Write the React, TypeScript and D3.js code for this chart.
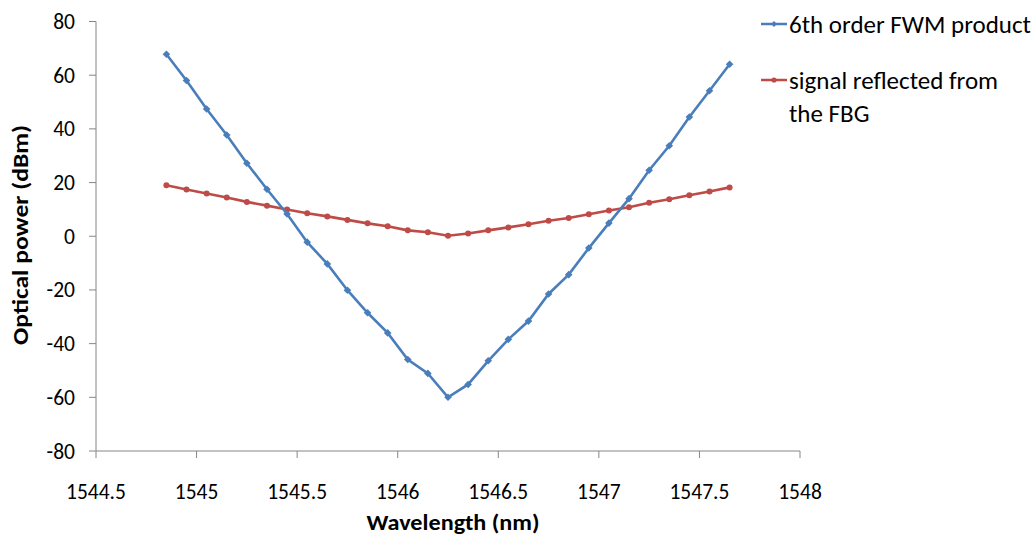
import React from "react";
import * as d3 from "d3";

const wavelengths = [
  1544.85, 1544.95, 1545.05, 1545.15, 1545.25, 1545.35, 1545.45, 1545.55, 1545.65, 1545.75,
  1545.85, 1545.95, 1546.05, 1546.15, 1546.25, 1546.35, 1546.45, 1546.55, 1546.65, 1546.75,
  1546.85, 1546.95, 1547.05, 1547.15, 1547.25, 1547.35, 1547.45, 1547.55, 1547.65,
];
const fwmProduct = [
  67.8, 58.0, 47.4, 37.7, 27.2, 17.5, 8.3, -2.2, -10.3, -20.1,
  -28.5, -36.0, -45.9, -51.1, -60.0, -55.2, -46.4, -38.4, -31.6, -21.5,
  -14.3, -4.4, 4.9, 14.0, 24.6, 33.7, 44.4, 54.2, 64.1,
];
const reflectedSignal = [
  19.0, 17.4, 15.9, 14.4, 12.8, 11.4, 10.0, 8.6, 7.4, 6.1,
  4.8, 3.7, 2.2, 1.5, 0.2, 1.0, 2.2, 3.3, 4.5, 5.8,
  6.8, 8.2, 9.6, 10.8, 12.5, 13.8, 15.3, 16.7, 18.2,
];
const xTicks = [1544.5, 1545, 1545.5, 1546, 1546.5, 1547, 1547.5, 1548];
const yTicks = [-80, -60, -40, -20, 0, 20, 40, 60, 80];
const legendLines = [["6th order FWM product"], ["signal reflected from", "the FBG"]];

const W = 1036;
const H = 544;
const FONT = "Carlito, Calibri, Lato, 'Open Sans', sans-serif";
const AXIS = "#868686";
const BLUE = "#4A7EBB";
const RED = "#BE4B48";

export default function App() {
  const x = d3.scaleLinear().domain([1544.5, 1548]).range([96, 800]);
  const y = d3.scaleLinear().domain([-80, 80]).range([451, 21.5]);
  const line = d3
    .line<number>()
    .x((_, i) => x(wavelengths[i]))
    .y((d) => y(d));

  const diamond = (cx: number, cy: number, r: number) =>
    `M${cx},${cy - r}L${cx + r},${cy}L${cx},${cy + r}L${cx - r},${cy}Z`;

  const x0 = x(1544.5);
  const yb = y(-80);

  return (
    <svg
      width={W}
      height={H}
      style={{ position: "absolute", left: 0, top: 0, background: "#fff" }}
      fontFamily={FONT}
    >
      {/* axes */}
      <line x1={x0} x2={x0} y1={y(80)} y2={yb} stroke={AXIS} strokeWidth={1} />
      <line x1={x0} x2={x(1548)} y1={yb} y2={yb} stroke={AXIS} strokeWidth={1} />
      {yTicks.map((t) => (
        <g key={"y" + t}>
          <line x1={x0 - 7} x2={x0} y1={y(t)} y2={y(t)} stroke={AXIS} />
          <text x={75} y={y(t)} dy="0.35em" textAnchor="end" fontSize={21.5} fill="#000">
            {t}
          </text>
        </g>
      ))}
      {xTicks.map((t) => (
        <g key={"x" + t}>
          <line x1={x(t)} x2={x(t)} y1={yb} y2={yb + 7} stroke={AXIS} />
          <text x={x(t)} y={499} textAnchor="middle" fontSize={21.5} fill="#000">
            {t}
          </text>
        </g>
      ))}
      <text
        x={453}
        y={530}
        textAnchor="middle"
        fontSize={23}
        fontWeight="bold"
        fill="#000"
        textLength={173}
        lengthAdjust="spacingAndGlyphs"
      >
        Wavelength (nm)
      </text>
      <text
        transform={`translate(28,${235}) rotate(-90)`}
        textAnchor="middle"
        fontSize={23}
        fontWeight="bold"
        fill="#000"
        textLength={220}
        lengthAdjust="spacingAndGlyphs"
      >
        Optical power (dBm)
      </text>

      {/* series */}
      <path d={line(reflectedSignal) || ""} fill="none" stroke={RED} strokeWidth={2.6} />
      {reflectedSignal.map((v, i) => (
        <circle key={"r" + i} cx={x(wavelengths[i])} cy={y(v)} r={3} fill={RED} />
      ))}
      <path d={line(fwmProduct) || ""} fill="none" stroke={BLUE} strokeWidth={2.6} />
      {fwmProduct.map((v, i) => (
        <path key={"b" + i} d={diamond(x(wavelengths[i]), y(v), 3.8)} fill={BLUE} />
      ))}

      {/* legend */}
      <g>
        <line x1={761} x2={787} y1={24} y2={24} stroke={BLUE} strokeWidth={2.5} />
        <path d={diamond(774, 24, 3)} fill={BLUE} />
        <text x={789} y={24} dy="0.35em" fontSize={25} fill="#000">
          {legendLines[0][0]}
        </text>
        <line x1={761} x2={787} y1={80} y2={80} stroke={RED} strokeWidth={2.5} />
        <circle cx={774} cy={80} r={2.6} fill={RED} />
        <text x={789} y={80} dy="0.35em" fontSize={25} fill="#000">
          {legendLines[1][0]}
        </text>
        <text x={789} y={113} dy="0.35em" fontSize={25} fill="#000">
          {legendLines[1][1]}
        </text>
      </g>
    </svg>
  );
}
